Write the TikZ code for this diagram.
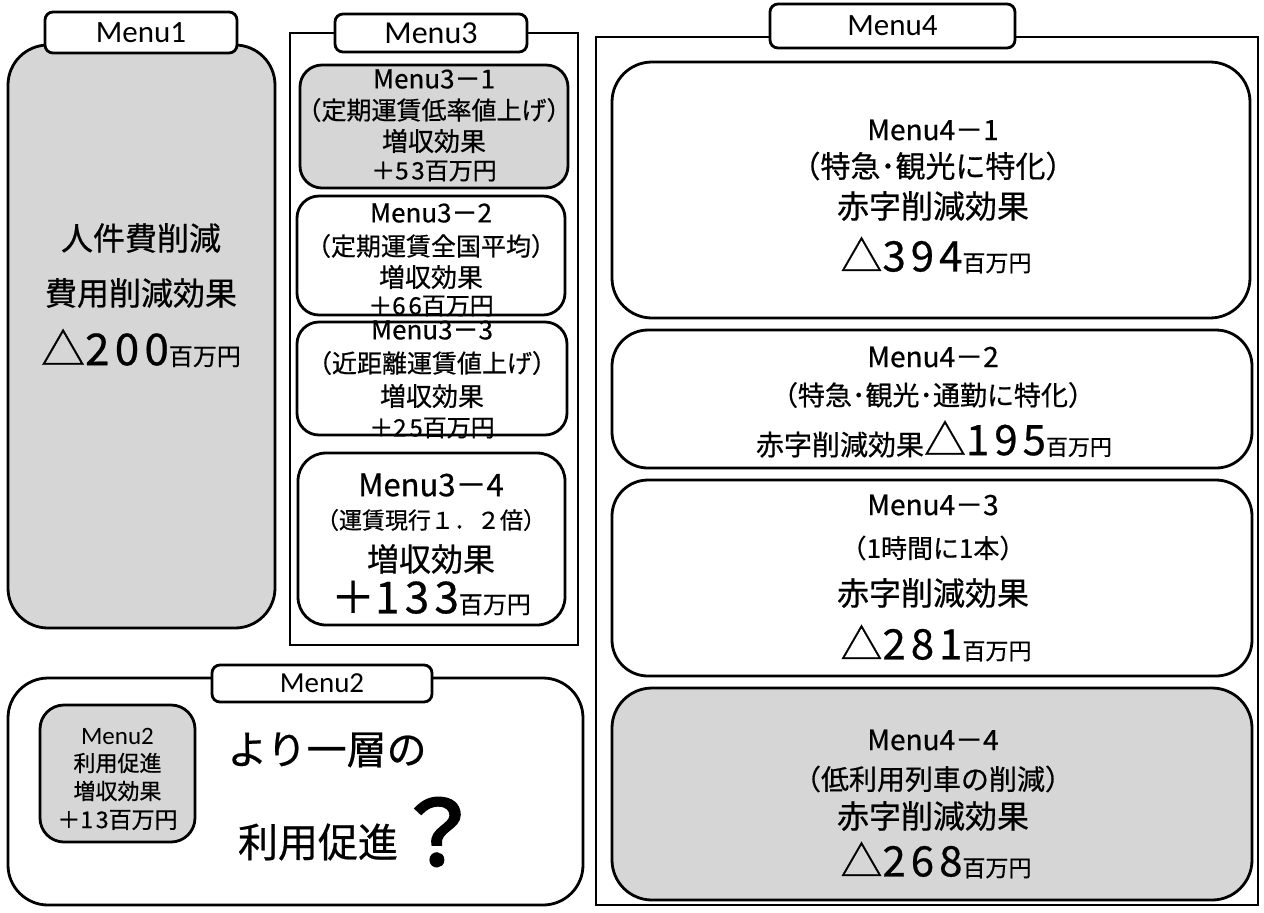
\documentclass[tikz,border=0pt]{standalone}
\usepackage{fontspec}
\setmainfont{Noto Sans CJK JP}[FakeBold=0.6]
\newfontfamily\numfont{Noto Sans CJK JP}[FakeBold=0.6, LetterSpace=12]
\newfontfamily\boldq{Noto Sans CJK JP}[FakeBold=4]
\newfontfamily\tabfont{Carlito}
\newcommand\myfs[1]{\fontsize{#1}{#1}\selectfont}
\newcommand\dg[1]{{\numfont #1}}
\definecolor{shade}{gray}{0.84}
\begin{document}
\begin{tikzpicture}[x=0.5pt,y=-0.5pt,
  rbox/.style={draw, line width=1.4pt, rounded corners=#1, inner sep=0pt},
  rbox/.default=10pt,
  frame/.style={draw, line width=1pt, inner sep=0pt},
  tab/.style={draw, fill=white, line width=1.4pt, rounded corners=4pt, inner sep=0pt, font=\tabfont},
  txt/.style={inner sep=0pt, anchor=center}]
\useasboundingbox (0,0) rectangle (1264,912);
\fill[white] (0,0) rectangle (1264,912);

% ---------- Menu1 ----------
\node[rbox=20pt, fill=shade, minimum width=133.5pt, minimum height=291.5pt] (m1) at (141.5,336.5) {};
\node[tab, minimum width=96pt, minimum height=20.5pt] (t1) at (141,32.5) {\myfs{15.5}Menu1};
\node[txt, font=\myfs{16}] (m1a) at (141,238) {人件費削減};
\node[txt, font=\myfs{16}] (m1b) at (141,293) {費用削減効果};
\node[txt] (m1c) at (141,348) {\myfs{22}△\dg{200}\myfs{12}百万円};

% ---------- Menu3 ----------
\node[frame, minimum width=144pt, minimum height=306pt] (f3) at (434,339) {};
\node[rbox=11pt, fill=shade, minimum width=134pt, minimum height=61.5pt] (b31) at (434,126.5) {};
\node[rbox=11pt, fill=white, minimum width=134pt, minimum height=59.5pt] (b32) at (431,255.5) {};
\node[rbox=11pt, fill=white, minimum width=135pt, minimum height=56.5pt] (b33) at (432,378.5) {};
\node[rbox=14pt, fill=white, minimum width=133.5pt, minimum height=86pt] (b34) at (431.5,539) {};
\node[tab, minimum width=96pt, minimum height=19pt] (t3) at (431,33) {\myfs{16}Menu3};

\node[txt, font=\myfs{13}] (b31a) at (434,79) {Menu\dg{3}－\dg{1}};
\node[txt, font=\myfs{12.5}] (b31b) at (434,110) {（定期運賃低率値上げ）};
\node[txt, font=\myfs{13}] (b31c) at (434,141) {増収効果};
\node[txt, font=\myfs{12}] (b31d) at (434,171) {＋\dg{53}百万円};

\node[txt, font=\myfs{13}] (b32a) at (431,213) {Menu\dg{3}－\dg{2}};
\node[txt, font=\myfs{12.5}] (b32b) at (431,246) {（定期運賃全国平均）};
\node[txt, font=\myfs{13}] (b32c) at (431,277) {増収効果};
\node[txt, font=\myfs{12}] (b32d) at (431,306) {＋\dg{66}百万円};

\node[txt, font=\myfs{13}] (b33a) at (432,330) {Menu\dg{3}－\dg{3}};
\node[txt, font=\myfs{12.5}] (b33b) at (432,363) {（近距離運賃値上げ）};
\node[txt, font=\myfs{13}] (b33c) at (432,396) {増収効果};
\node[txt, font=\myfs{12}] (b33d) at (432,428) {＋\dg{25}百万円};

\node[txt, font=\myfs{15.5}] (b34a) at (431,485) {Menu\dg{3}－\dg{4}};
\node[txt, font=\myfs{11.5}] (b34b) at (431,520) {（運賃現行１．２倍）};
\node[txt, font=\myfs{16}] (b34c) at (431,559) {増収効果};
\node[txt] (b34d) at (431,598) {\myfs{22}＋\dg{133}\myfs{12}百万円};

% ---------- Menu4 ----------
\node[frame, minimum width=331pt, minimum height=434pt] (f4) at (927,471) {};
\node[rbox=20pt, fill=white, minimum width=319pt, minimum height=128pt] (b41) at (931,190) {};
\node[rbox=18pt, fill=white, minimum width=320pt, minimum height=69pt] (b42) at (932,399) {};
\node[rbox=18pt, fill=white, minimum width=320pt, minimum height=98pt] (b43) at (932,578) {};
\node[rbox=20pt, fill=shade, minimum width=320pt, minimum height=106pt] (b44) at (932,794) {};
\node[tab, minimum width=122.5pt, minimum height=22pt] (t4) at (892.5,26) {\myfs{15.5}Menu4};

\node[txt, font=\myfs{14}] (b41a) at (933,130) {Menu\dg{4}－\dg{1}};
\node[txt, font=\myfs{15}] (b41b) at (933,166) {（特急･観光に特化）};
\node[txt, font=\myfs{16}] (b41c) at (933,206) {赤字削減効果};
\node[txt] (b41d) at (936,255) {\myfs{21}△\dg{394}\myfs{11.5}百万円};

\node[txt, font=\myfs{14}] (b42a) at (933,357) {Menu\dg{4}－\dg{2}};
\node[txt, font=\myfs{13.5}] (b42b) at (933,395) {（特急･観光･通勤に特化）};
\node[txt] (b42c) at (934,439) {\myfs{14}赤字削減効果\myfs{21}△\dg{195}\myfs{11}百万円};

\node[txt, font=\myfs{14}] (b43a) at (933,505) {Menu\dg{4}－\dg{3}};
\node[txt, font=\myfs{13}] (b43b) at (933,548) {（1時間に1本）};
\node[txt, font=\myfs{16}] (b43c) at (933,593) {赤字削減効果};
\node[txt] (b43d) at (936,643) {\myfs{21}△\dg{281}\myfs{11.5}百万円};

\node[txt, font=\myfs{14}] (b44a) at (933,740) {Menu\dg{4}－\dg{4}};
\node[txt, font=\myfs{14}] (b44b) at (933,779) {（低利用列車の削減）};
\node[txt, font=\myfs{16}] (b44c) at (933,816) {赤字削減効果};
\node[txt] (b44d) at (936,860) {\myfs{21}△\dg{268}\myfs{11.5}百万円};

% ---------- Menu2 ----------
\node[rbox=20pt, fill=white, minimum width=287.5pt, minimum height=113.5pt] (m2) at (295.5,791.5) {};
\node[rbox=12pt, fill=shade, minimum width=77.5pt, minimum height=68.5pt] (b2) at (117.5,773.5) {};
\node[tab, minimum width=110pt, minimum height=18.5pt] (t2) at (322,683.5) {\myfs{14.5}Menu2};

\node[txt, font=\tabfont\myfs{12.5}] (b2a) at (117.5,736) {Menu2};
\node[txt, font=\myfs{11}] (b2b) at (117.5,763) {利用促進};
\node[txt, font=\myfs{11}] (b2c) at (117.5,791) {増収効果};
\node[txt, font=\myfs{11.5}] (b2d) at (117.5,820) {＋\dg{13}百万円};

\node[txt, font=\myfs{20}] (q1) at (327,750) {より一層の};
\node[txt, font=\myfs{20}] (q2) at (318,842) {利用促進};
\node[txt, font=\boldq\myfs{44}] (q3) at (438,832) {？};
\end{tikzpicture}
\end{document}
